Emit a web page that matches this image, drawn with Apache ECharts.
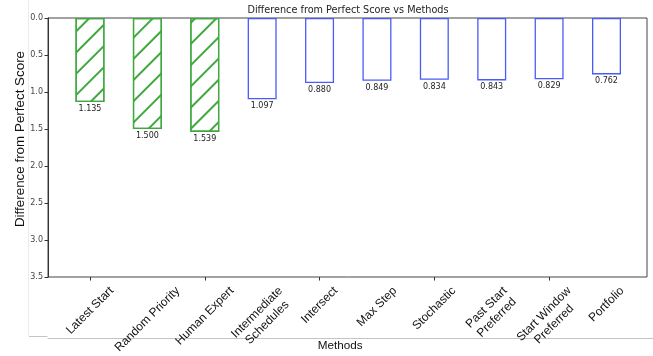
<!DOCTYPE html>
<html>
<head>
<meta charset="utf-8">
<script src="https://cdn.jsdelivr.net/npm/echarts@6/dist/echarts.min.js"></script>
<style>
html,body{margin:0;padding:0;background:#fff;}
#main{width:653px;height:356px;}
</style>
</head>
<body>
<div id="main"></div>
<script>
const categories = ['Latest Start', 'Random Priority', 'Human Expert', 'Intermediate\nSchedules', 'Intersect', 'Max Step', 'Stochastic', 'Past Start\nPreferred', 'Start Window\nPreferred', 'Portfolio'];
const baselineValues = [1.135, 1.500, 1.539, null, null, null, null, null, null, null];
const methodValues = [null, null, null, 1.097, 0.880, 0.849, 0.834, 0.843, 0.829, 0.762];
const titleText = 'Difference from Perfect Score vs Methods';
const yName = 'Difference from Perfect Score';
const xName = 'Methods';

const GREEN = '#3fa83f';
const BLUE = '#4a5cf7';

const chart = echarts.init(document.getElementById('main'), null, {renderer: 'canvas'});

const valueLabel = {
  show: true,
  position: 'bottom',
  distance: 3,
  fontFamily: 'DejaVu Sans',
  fontSize: 8,
  color: '#222',
  formatter: p => p.value == null ? '' : Number(p.value).toFixed(3)
};

chart.setOption({
  animation: false,
  backgroundColor: '#fff',
  title: {
    text: titleText,
    left: 348, top: 5.5, textAlign: 'center', padding: 0,
    textStyle: {fontFamily: 'DejaVu Sans', fontSize: 9.7, fontWeight: 'normal', color: '#222'}
  },
  grid: [
    {left: 61.3, width: 573.9, top: 18, height: 259, containLabel: false, outerBoundsMode: 'none'},
    {left: 48, width: 599, top: 18, height: 259, containLabel: false, outerBoundsMode: 'none', show: true, borderColor: '#444', borderWidth: 1, backgroundColor: 'transparent'}
  ],
  xAxis: [
    {
      type: 'category', gridIndex: 0, data: categories, position: 'bottom',
      axisLine: {show: false, onZero: false},
      axisTick: {show: true, alignWithLabel: true, length: 3.5, lineStyle: {color: '#333'}},
      axisLabel: {show: false},
      splitLine: {show: false},
      name: xName, nameLocation: 'middle', nameGap: 63, nameMoveOverlap: false,
      nameTextStyle: {fontFamily: 'Liberation Sans', fontSize: 11.7, color: '#111', padding: [0, 16, 0, 0]}
    },
    {type: 'category', gridIndex: 1, data: categories, show: false, axisLine: {onZero: false}}
  ],
  yAxis: [
    {
      type: 'value', gridIndex: 1, inverse: true, min: 0, max: 3.5, interval: 0.5,
      axisLine: {show: true, lineStyle: {color: '#333'}},
      axisTick: {show: true, length: 3.5, lineStyle: {color: '#333'}},
      splitLine: {show: false},
      axisLabel: {formatter: v => v.toFixed(1), fontFamily: 'DejaVu Sans', fontSize: 8, color: '#444', margin: 5},
      name: yName, nameLocation: 'middle', nameGap: 21, nameRotate: 90, nameMoveOverlap: false,
      nameTextStyle: {fontFamily: 'Liberation Sans', fontSize: 13.4, color: '#111', padding: [0, 0, 0, 17]}
    },
    {type: 'value', gridIndex: 0, inverse: true, min: 0, max: 3.5, show: false}
  ],
  series: [
    {
      type: 'bar', xAxisIndex: 0, yAxisIndex: 1, data: baselineValues,
      barWidth: 29, barGap: '-100%',
      itemStyle: {
        color: 'rgba(255,255,255,0)', borderColor: GREEN, borderWidth: 1.3,
        decal: {symbol: 'rect', symbolSize: 1, dashArrayX: [1, 0], dashArrayY: [1.2, 12.8], rotation: -Math.PI / 4, color: GREEN}
      },
      label: valueLabel
    },
    {
      type: 'bar', xAxisIndex: 0, yAxisIndex: 1, data: methodValues,
      barWidth: 29, barGap: '-100%',
      itemStyle: {color: 'rgba(255,255,255,0)', borderColor: BLUE, borderWidth: 1.3},
      label: valueLabel
    }
  ]
});

// rotated, centred category labels placed from the axis scale
const ctx = document.createElement('canvas').getContext('2d');
const FS = 12;
ctx.font = FS + 'px "Liberation Sans"';
const axisY = chart.convertToPixel({yAxisIndex: 1}, 3.5);
const S = Math.SQRT1_2;
const labels = categories.map((c, i) => {
  const x = chart.convertToPixel({xAxisIndex: 0}, i);
  const lines = c.split('\n');
  const w = Math.max(...lines.map(l => ctx.measureText(l).width));
  const h = 13.8 + (lines.length - 1) * 14.4;
  const bb = (w + h) * S;
  return {
    type: 'text', x: x, y: axisY + 7 + bb / 2, rotation: Math.PI / 4, silent: true,
    style: {text: c, fontFamily: 'Liberation Sans', fontSize: FS, fill: '#111', align: 'center', verticalAlign: 'middle', lineHeight: 14.4}
  };
});

const deco = [
  {type: 'line', shape: {x1: 28.5, y1: 0, x2: 28.5, y2: 336}, style: {stroke: '#ececec', lineWidth: 1}, silent: true},
  {type: 'line', shape: {x1: 29, y1: 336.5, x2: 47.5, y2: 336.5}, style: {stroke: '#c4c4c4', lineWidth: 1}, silent: true},
  {type: 'line', shape: {x1: 47.5, y1: 338.5, x2: 653, y2: 338.5}, style: {stroke: '#c4c4c4', lineWidth: 1}, silent: true}
];

chart.setOption({graphic: deco.concat(labels)});
</script>
</body>
</html>
